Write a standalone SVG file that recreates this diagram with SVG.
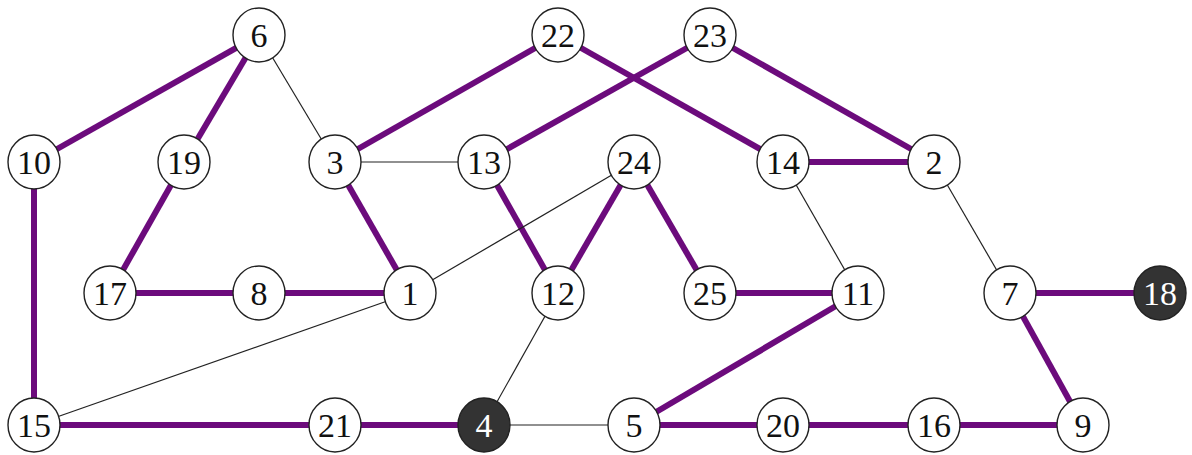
<svg xmlns="http://www.w3.org/2000/svg" width="1192" height="455" viewBox="0 0 1192 455">
<style>
.t{stroke:#6c0b7c;stroke-width:6;fill:none}
.n{stroke:#222;stroke-width:1.2;fill:none}
.c{fill:#fff;stroke:#222;stroke-width:1.4}
.d{fill:#333;stroke:#222;stroke-width:1.4}
text{font-family:"Liberation Serif","DejaVu Serif",serif;font-size:34px;text-anchor:middle;fill:#111}
.w{fill:#fff}
</style>
<rect width="1192" height="455" fill="#fff"/>
<g id="connectors">
<line class="t" x1="259" y1="35" x2="34" y2="162"/>
<line class="t" x1="259" y1="35" x2="184" y2="162"/>
<line class="n" x1="259" y1="35" x2="335" y2="162"/>
<line class="t" x1="558" y1="35" x2="335" y2="162"/>
<line class="t" x1="710" y1="35" x2="484" y2="162"/>
<line class="t" x1="558" y1="35" x2="783" y2="162"/>
<line class="t" x1="710" y1="35" x2="934" y2="162"/>
<line class="t" x1="783" y1="162" x2="934" y2="162"/>
<line class="n" x1="335" y1="162" x2="484" y2="162"/>
<line class="t" x1="184" y1="162" x2="110" y2="293"/>
<line class="t" x1="335" y1="162" x2="410" y2="293"/>
<line class="t" x1="484" y1="162" x2="558" y2="293"/>
<line class="t" x1="634" y1="162" x2="558" y2="293"/>
<line class="t" x1="634" y1="162" x2="710" y2="293"/>
<line class="n" x1="634" y1="162" x2="410" y2="293"/>
<line class="n" x1="783" y1="162" x2="858" y2="293"/>
<line class="n" x1="934" y1="162" x2="1010" y2="293"/>
<line class="t" x1="110" y1="293" x2="410" y2="293"/>
<line class="t" x1="710" y1="293" x2="858" y2="293"/>
<line class="t" x1="1010" y1="293" x2="1160" y2="293"/>
<line class="t" x1="34" y1="162" x2="34" y2="425"/>
<line class="n" x1="410" y1="293" x2="34" y2="425"/>
<line class="n" x1="558" y1="293" x2="484" y2="425"/>
<line class="t" x1="858" y1="293" x2="634" y2="425"/>
<line class="t" x1="1010" y1="293" x2="1083" y2="425"/>
<line class="t" x1="34" y1="425" x2="484" y2="425"/>
<line class="n" x1="484" y1="425" x2="634" y2="425"/>
<line class="t" x1="634" y1="425" x2="1083" y2="425"/>
</g>
<g id="n6"><ellipse class="c" cx="259" cy="35" rx="26" ry="27"/><text x="259" y="47">6</text></g>
<g id="n22"><ellipse class="c" cx="558" cy="35" rx="26" ry="27"/><text x="558" y="47">22</text></g>
<g id="n23"><ellipse class="c" cx="710" cy="35" rx="26" ry="27"/><text x="710" y="47">23</text></g>
<g id="n10"><ellipse class="c" cx="34" cy="162" rx="26" ry="27"/><text x="34" y="174">10</text></g>
<g id="n19"><ellipse class="c" cx="184" cy="162" rx="26" ry="27"/><text x="184" y="174">19</text></g>
<g id="n3"><ellipse class="c" cx="335" cy="162" rx="26" ry="27"/><text x="335" y="174">3</text></g>
<g id="n13"><ellipse class="c" cx="484" cy="162" rx="26" ry="27"/><text x="484" y="174">13</text></g>
<g id="n24"><ellipse class="c" cx="634" cy="162" rx="26" ry="27"/><text x="634" y="174">24</text></g>
<g id="n14"><ellipse class="c" cx="783" cy="162" rx="26" ry="27"/><text x="783" y="174">14</text></g>
<g id="n2"><ellipse class="c" cx="934" cy="162" rx="26" ry="27"/><text x="934" y="174">2</text></g>
<g id="n17"><ellipse class="c" cx="110" cy="293" rx="26" ry="27"/><text x="110" y="305">17</text></g>
<g id="n8"><ellipse class="c" cx="259" cy="293" rx="26" ry="27"/><text x="259" y="305">8</text></g>
<g id="n1"><ellipse class="c" cx="410" cy="293" rx="26" ry="27"/><text x="410" y="305">1</text></g>
<g id="n12"><ellipse class="c" cx="558" cy="293" rx="26" ry="27"/><text x="558" y="305">12</text></g>
<g id="n25"><ellipse class="c" cx="710" cy="293" rx="26" ry="27"/><text x="710" y="305">25</text></g>
<g id="n11"><ellipse class="c" cx="858" cy="293" rx="26" ry="27"/><text x="858" y="305">11</text></g>
<g id="n7"><ellipse class="c" cx="1010" cy="293" rx="26" ry="27"/><text x="1010" y="305">7</text></g>
<g id="n18"><ellipse class="d" cx="1160" cy="293" rx="26" ry="27"/><text class="w" x="1160" y="305">18</text></g>
<g id="n15"><ellipse class="c" cx="34" cy="425" rx="26" ry="27"/><text x="34" y="437">15</text></g>
<g id="n21"><ellipse class="c" cx="335" cy="425" rx="26" ry="27"/><text x="335" y="437">21</text></g>
<g id="n4"><ellipse class="d" cx="484" cy="425" rx="26" ry="27"/><text class="w" x="484" y="437">4</text></g>
<g id="n5"><ellipse class="c" cx="634" cy="425" rx="26" ry="27"/><text x="634" y="437">5</text></g>
<g id="n20"><ellipse class="c" cx="783" cy="425" rx="26" ry="27"/><text x="783" y="437">20</text></g>
<g id="n16"><ellipse class="c" cx="934" cy="425" rx="26" ry="27"/><text x="934" y="437">16</text></g>
<g id="n9"><ellipse class="c" cx="1083" cy="425" rx="26" ry="27"/><text x="1083" y="437">9</text></g>
</svg>
